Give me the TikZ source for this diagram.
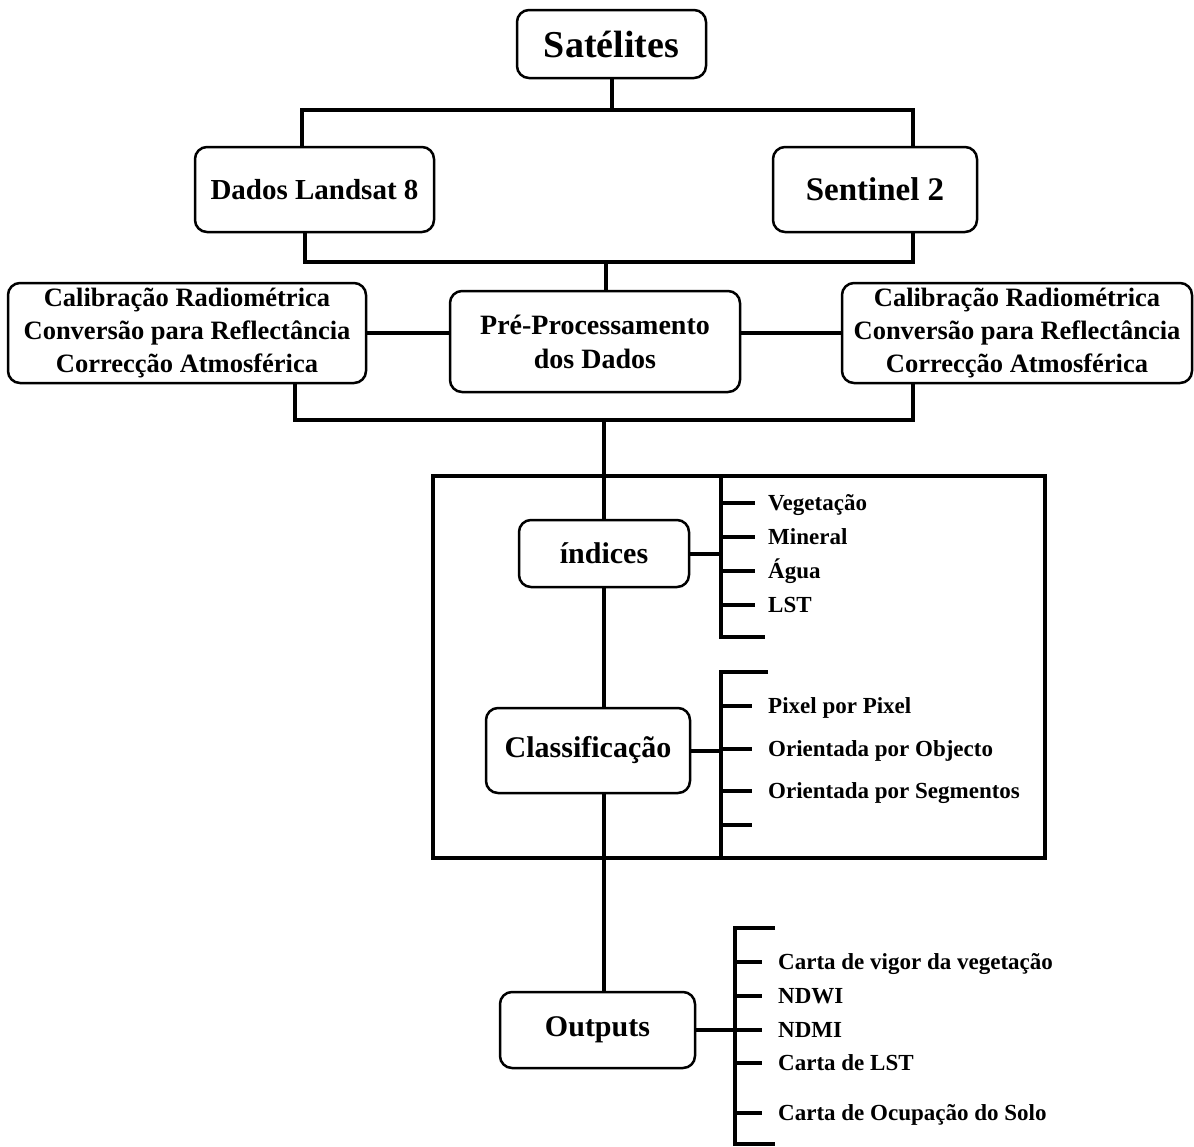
\documentclass[tikz,border=0pt]{standalone}
\usepackage{fontspec}
\setmainfont{Liberation Serif}
\begin{document}
\begin{tikzpicture}[x=1pt,y=-1pt,
 box/.style={draw, line width=2.5pt, rounded corners=12pt, align=center, inner sep=0pt, fill=white},
 conn/.style={line width=4pt},
 lbl/.style={anchor=west, inner sep=0pt, text height=16pt, text depth=5pt, font=\bfseries\fontsize{23}{28}\selectfont}]
\useasboundingbox (0,0) rectangle (1194,1146);

% coordinates used by connectors
\coordinate (a1) at (302,110);
\coordinate (a2) at (913,110);
\coordinate (b1) at (305,262);
\coordinate (b2) at (913,262);
\coordinate (b3) at (606,262);
\coordinate (c1) at (295,420);
\coordinate (c2) at (913,420);
\coordinate (c3) at (604,420);
\coordinate (frTL) at (433,476);
\coordinate (frBR) at (1045,858);
\coordinate (s1t) at (721,476);
\coordinate (s1b) at (721,637);
\coordinate (s3t) at (721,672);
\coordinate (s3b) at (721,858);
\coordinate (s2t) at (735,928);
\coordinate (s2b) at (735,1146);

% boxes
\node[box, minimum width=189pt, minimum height=68pt, font=\bfseries\fontsize{38}{44}\selectfont] (sat) at (611.5,44) {Satélites};
\node[box, minimum width=239pt, minimum height=85pt, font=\bfseries\fontsize{29}{34}\selectfont] (land) at (314.5,189.5) {Dados Landsat 8};
\node[box, minimum width=204pt, minimum height=85pt, font=\bfseries\fontsize{33}{38}\selectfont] (sent) at (875,189.5) {Sentinel 2};
\node[box, minimum width=290pt, minimum height=101pt, font=\bfseries\fontsize{28}{34}\selectfont] (pre) at (595,341.5) {Pré-Processamento\\dos Dados};
\node[box, minimum width=358pt, minimum height=100pt, font=\bfseries\fontsize{26.5}{33}\selectfont] (calL) at (187,333) {Calibração Radiométrica\\Conversão para Reflectância\\Correcção Atmosférica};
\node[box, minimum width=350pt, minimum height=100pt, font=\bfseries\fontsize{26.5}{33}\selectfont] (calR) at (1017,333) {Calibração Radiométrica\\Conversão para Reflectância\\Correcção Atmosférica};
\node[box, minimum width=170pt, minimum height=67pt, font=\bfseries\fontsize{30}{36}\selectfont] (ind) at (604,553.5) {índices};
\node[box, minimum width=204pt, minimum height=85pt, font=\bfseries\fontsize{30}{36}\selectfont] (cls) at (588,750.5) {Classificação};
\node[box, minimum width=195pt, minimum height=76pt, font=\bfseries\fontsize{30}{36}\selectfont] (out) at (597.5,1030) {Outputs};

% top tree
\draw[conn] (sat.south) -- (sat.south |- a1);
\draw[conn] (land.north -| a1) -- (a1) -- (a2) -- (sent.north -| a2);
\draw[conn] (land.south -| b1) -- (b1) -- (b2) -- (sent.south -| b2);
\draw[conn] (b3) -- (pre.north -| b3);
\draw[conn] (calL.east) -- (pre.west |- calL.east);
\draw[conn] (pre.east |- calR.west) -- (calR.west);
\draw[conn] (calL.south -| c1) -- (c1) -- (c2) -- (calR.south -| c2);

% frame
\draw[line width=3.5pt] (frTL) rectangle (frBR);

% main vertical
\draw[conn] (c3) -- (ind.north -| c3);
\draw[conn] (ind.south -| c3) -- (cls.north -| c3);
\draw[conn] (cls.south -| c3) -- (out.north -| c3);

% indices branch
\draw[conn] (s1t) -- (s1b) -- (765,637);
\draw[conn] (ind.east) -- (ind.east -| s1t);
\foreach \y/\t in {503/Vegetação,537/Mineral,571/Água,605/LST}{
  \draw[conn] (721,\y) -- (755,\y);
  \node[lbl] at (768,\y+2) {\t};
}

% classification branch
\draw[conn] (768,672) -- (s3t) -- (s3b);
\draw[conn] (cls.east) -- (cls.east -| s3t);
\foreach \y/\t in {706/Pixel por Pixel,749/Orientada por Objecto,791/Orientada por Segmentos}{
  \draw[conn] (721,\y) -- (752,\y);
  \node[lbl] at (768,\y+2) {\t};
}
\draw[conn] (721,825) -- (752,825);

% outputs branch
\draw[conn] (775,928) -- (s2t) -- (s2b);
\draw[conn] (out.east) -- (out.east -| s2t);
\foreach \y/\t in {962/Carta de vigor da vegetação,996/NDWI,1030/NDMI,1063/Carta de LST,1113/Carta de Ocupação do Solo}{
  \draw[conn] (735,\y) -- (762,\y);
  \node[lbl] at (778,\y+2) {\t};
}
\draw[conn] (735,1144) -- (775,1144);
\end{tikzpicture}
\end{document}
